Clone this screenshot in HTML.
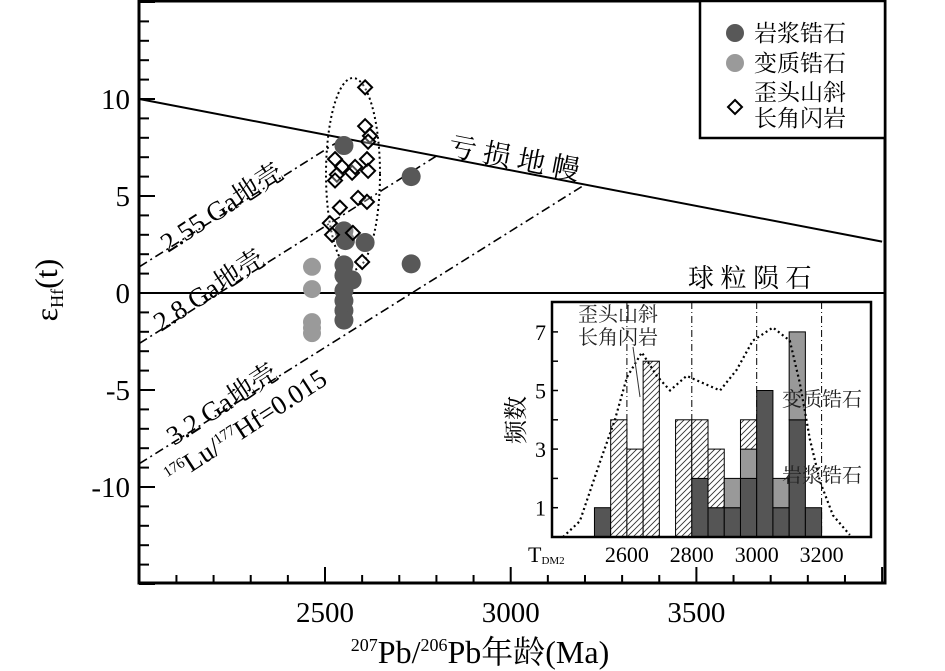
<!DOCTYPE html>
<html><head><meta charset="utf-8"><style>
html,body{margin:0;padding:0;background:#fff;}
svg{display:block;font-family:"Liberation Serif","Noto Serif CJK SC",serif;}
</style></head><body>
<svg id="chart" width="945" height="671" viewBox="0 0 945 671">
<defs>
<pattern id="hatch" patternUnits="userSpaceOnUse" width="6" height="6">
<rect width="6" height="6" fill="#fff"/>
<path d="M-1,7 L7,-1 M-4,4 L4,-4 M2,10 L10,2" stroke="#333" stroke-width="0.9"/>
</pattern>
</defs>
<g id="main"></g>
<g id="inset"></g>
</svg>
<script>
// ---------- main chart data ----------
const magAges=[2551,2732,2732,2551,2555,2608,2551,2551,2573,2551,2551,2551,2551];
const magEps=[7.6,6.0,1.5,3.2,2.7,2.6,1.45,0.9,0.67,0.13,-0.4,-0.9,-1.4];
const metAges=[2465,2465,2465,2465,2465];
const metEps=[1.35,0.2,-1.5,-2.07,-1.8];
const dioAges=[2608,2608,2621,2616,2527,2546,2532,2527,2573,2581,2613,2616,2540,2589,2613,2513,2519,2575,2600];
const dioEps=[10.6,8.6,8.1,7.8,6.9,6.5,6.1,5.8,6.2,6.5,6.9,6.3,4.4,4.9,4.7,3.6,3.0,3.1,1.6];
const dmEnds=[10,2.65];
const crustModelAges=[2550,2800,3200];
const crustStartEps=[1.35,-2.6,-8.8];
const xTicks=[2500,3000,3500];
const yTicks=[10,5,0,-5,-10];
// ---------- inset data ----------
const binStarts=[2500,2550,2600,2650,2750,2800,2850,2900,2950,3000,3050,3100,3150];
const binMag=[1,0,0,0,0,2,1,1,2,5,1,4,1];
const binMet=[0,0,0,0,0,0,0,1,1,0,1,3,0];
const binDio=[0,4,3,6,4,2,2,0,1,0,0,0,0];
const kdeAge=[2403,2455,2517,2563,2600,2646,2692,2733,2784,2835,2887,2938,2988,3050,3102,3133,3164,3195,3235,3287];
const kdeVal=[0,0.54,2.56,4.0,5.45,6.3,5.5,5.0,5.5,5.25,5.0,5.7,6.7,7.15,6.7,5.25,3.33,1.9,0.74,0.07];
const insetXTicks=[2600,2800,3000,3200];
const insetYTicks=[1,3,5,7];

const NS="http://www.w3.org/2000/svg";
function mk(tag,attrs,parent,text){const e=document.createElementNS(NS,tag);for(const k in attrs)e.setAttribute(k,attrs[k]);if(text!==undefined)e.textContent=text;parent.appendChild(e);return e;}
const X=t=>325+(t-2500)*0.3714;
const Y=v=>293-v*19.4;
const main=document.getElementById('main');

let fr=mk('rect',{x:139,y:1,width:746,height:582,fill:'none',stroke:'#000','stroke-width':3},main);

for(let t=2000;t<=4000;t+=100){const maj=t%500===0;const l=mk('line',{x1:X(t),x2:X(t),y1:583,y2:583-(maj?16:8),stroke:'#000','stroke-width':2},main);
}
xTicks.forEach(t=>{const e=mk('text',{x:X(t),y:622,'font-size':29,'text-anchor':'middle'},main,String(t));
});
for(let v=-15;v<=15;v++){const maj=v%5===0;const l=mk('line',{x1:139,x2:139+(maj?16:10),y1:Y(v),y2:Y(v),stroke:'#000','stroke-width':2},main);
}
yTicks.forEach(v=>{const e=mk('text',{x:130,y:Y(v)+10,'font-size':29,'text-anchor':'end'},main,String(v));
});
let yt=mk('text',{transform:'translate(57,290) rotate(-90)','font-size':32,'text-anchor':'middle'},main);

yt.innerHTML='ε<tspan font-size="18" dy="6">Hf</tspan><tspan dy="-6">(t)</tspan>';
let xt=mk('text',{x:480,y:663,'font-size':32,'text-anchor':'middle'},main);

xt.innerHTML='<tspan font-size="18" dy="-12">207</tspan><tspan dy="12">Pb/</tspan><tspan font-size="18" dy="-12">206</tspan><tspan dy="12">Pb年龄(Ma)</tspan>';

let ch=mk('line',{x1:139,x2:885,y1:Y(0),y2:Y(0),stroke:'#000','stroke-width':2},main);

let dm=mk('line',{x1:X(2000),y1:Y(dmEnds[0]),x2:X(4000),y2:Y(dmEnds[1]),stroke:'#000','stroke-width':2},main);

const dmAt=t=>dmEnds[0]+(dmEnds[1]-dmEnds[0])*(t-2000)/2000;
crustModelAges.forEach((T,i)=>{const l=mk('line',{x1:X(2000),y1:Y(crustStartEps[i]),x2:X(T),y2:Y(dmAt(T)),stroke:'#000','stroke-width':1.6,'stroke-dasharray':'9,4,2,4'},main);
});
function lbl(x,y,rot,html,name,size){const e=mk('text',{transform:`translate(${x},${y}) rotate(${rot})`,'font-size':size||25},main);e.innerHTML=html;
return e;}
lbl(447,155,11,'亏 损 地 幔','depleted-mantle-label',28);
lbl(688,287,0,'球 粒 陨 石','chondrite-label',26);
lbl(168,253,-33,'2.55 Ga地壳','crust-2.55-label',27);
lbl(161,332,-33,'2.8 Ga地壳','crust-2.8-label',27);
lbl(174,446,-33,'3.2 Ga地壳','crust-3.2-label',27);
lbl(172,485,-33,'<tspan font-size="15" dy="-9">176</tspan><tspan dy="9">Lu/</tspan><tspan font-size="15" dy="-9">177</tspan><tspan dy="9">Hf=0.015</tspan>','lu-hf-label',27);

let el=mk('ellipse',{cx:353,cy:174,rx:27,ry:96,fill:'none',stroke:'#000','stroke-width':2,'stroke-dasharray':'2,3'},main);

metAges.forEach((a,i)=>{const c=mk('circle',{cx:X(a),cy:Y(metEps[i]),r:9,fill:'#9a9a9a'},main);
});
magAges.forEach((a,i)=>{const c=mk('circle',{cx:X(a),cy:Y(magEps[i]),r:9.5,fill:'#585858'},main);
});
dioAges.forEach((a,i)=>{const x=X(a),y=Y(dioEps[i]),s=7;const p=mk('polygon',{points:`${x},${y-s} ${x+s},${y} ${x},${y+s} ${x-s},${y}`,fill:'#fff','fill-opacity':0.3,stroke:'#000','stroke-width':2},main);
});

let lg=mk('g',{},main);
mk('rect',{x:700,y:1,width:185,height:137,fill:'#fff',stroke:'#000','stroke-width':2.5},lg);
let c1=mk('circle',{cx:735,cy:33,r:9,fill:'#585858'},lg);
let t1=mk('text',{x:754,y:41,'font-size':23},lg,'岩浆锆石');
let c2=mk('circle',{cx:735,cy:63,r:9,fill:'#9a9a9a'},lg);
let t2=mk('text',{x:754,y:71,'font-size':23},lg,'变质锆石');
let d=mk('polygon',{points:'735,100 742,107 735,114 728,107',fill:'#fff',stroke:'#000','stroke-width':2},lg);
let t3=mk('text',{x:754,y:100,'font-size':23},lg,'歪头山斜');
let t4=mk('text',{x:754,y:126,'font-size':23},lg,'长角闪岩');

const ins=document.getElementById('inset');
const IX=t=>724.25+(t-2900)*0.3245;
const IY=v=>537-v*29.3;
let bg=mk('rect',{x:552,y:302,width:319,height:235,fill:'#fff',stroke:'none'},ins);

insetXTicks.forEach(t=>{const l=mk('line',{x1:IX(t),x2:IX(t),y1:302,y2:537,stroke:'#000','stroke-width':1,'stroke-dasharray':'7,3,1,3'},ins);
});
const bw=50*0.3245;
binStarts.forEach((b,i)=>{const x=IX(b);let base=0;
[[binMag[i],'#555','inset-bar-magmatic'],[binMet[i],'#999','inset-bar-metamorphic'],[binDio[i],'url(#hatch)','inset-bar-diorite']].forEach(([v,f,n])=>{
if(v>0){const r=mk('rect',{x:x,y:IY(base+v),width:bw,height:v*29.3,fill:f,stroke:'#000','stroke-width':1},ins);
base+=v;}});});
let kd=mk('polyline',{points:kdeAge.map((a,i)=>`${IX(a)},${IY(kdeVal[i])}`).join(' '),fill:'none',stroke:'#000','stroke-width':2.2,'stroke-dasharray':'2,3'},ins);

let ifr=mk('rect',{x:552,y:302,width:319,height:235,fill:'none',stroke:'#000','stroke-width':2.5},ins);

insetYTicks.forEach(v=>{const t=mk('text',{x:546,y:IY(v)+8,'font-size':22,'text-anchor':'end'},ins,String(v));
});
for(let v=1;v<=7;v++){const l=mk('line',{x1:552,x2:558,y1:IY(v),y2:IY(v),stroke:'#000','stroke-width':1.5},ins);}
insetXTicks.forEach(t=>{const e=mk('text',{x:IX(t),y:562,'font-size':22,'text-anchor':'middle'},ins,String(t));
});
let td=mk('text',{x:528,y:562,'font-size':22},ins);td.innerHTML='T<tspan font-size="11" dy="2">DM2</tspan>';

let fy=mk('text',{transform:'translate(524,420) rotate(-90)','font-size':24,'text-anchor':'middle'},ins,'频数');

let a1=mk('text',{x:578,y:321,'font-size':20,fill:'#222'},ins,'歪头山斜');
let a2=mk('text',{x:578,y:344,'font-size':20,fill:'#222'},ins,'长角闪岩');
let ll=mk('line',{x1:633,y1:347,x2:640,y2:397,stroke:'#333','stroke-width':1},ins);
let a3=mk('text',{x:782,y:406,'font-size':20,fill:'#222'},ins,'变质锆石');
let a4=mk('text',{x:782,y:482,'font-size':20,fill:'#222'},ins,'岩浆锆石');
</script>
</body></html>
